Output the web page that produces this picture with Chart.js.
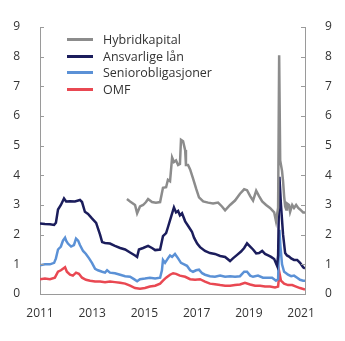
<!DOCTYPE html>
<html lang="no">
<head>
<meta charset="UTF-8">
<title>Risikopåslag</title>
<script src="https://cdn.jsdelivr.net/npm/chart.js"></script>
<style>
  body { margin: 0; background: #fff; }
  .wrap { position: relative; width: 345px; height: 341px; }
  .legend { position: absolute; left: 67px; top: 32px; font: 12.5px "Open Sans", sans-serif; color: #333; }
  .legend div { height: 16.5px; line-height: 16.5px; white-space: nowrap; }
  .legend span { display: inline-block; width: 26px; height: 3px; vertical-align: middle; margin-right: 10px; position: relative; top: -1px; }
</style>
</head>
<body>
<div class="wrap">
  <canvas id="graf" width="345" height="341"></canvas>
  <div class="legend" id="legend"></div>
</div>
<script>
const seriesNames = ['Hybridkapital', 'Ansvarlige lån', 'Seniorobligasjoner', 'OMF'];
const seriesColors = ['#8c8c8c', '#1b1d5c', '#5b91d6', '#e94852'];
const yTicks = [0, 1, 2, 3, 4, 5, 6, 7, 8, 9];
const xTicks = [2011, 2013, 2015, 2017, 2019, 2021];

// Hybridkapital
const hybridDates = [2014.33, 2014.45, 2014.56, 2014.64, 2014.72, 2014.83, 2014.95, 2015.06, 2015.14, 2015.29, 2015.44, 2015.60,
  2015.71, 2015.83, 2015.90, 2015.98, 2016.06, 2016.13, 2016.21, 2016.29, 2016.36, 2016.40, 2016.48, 2016.56, 2016.59, 2016.67,
  2016.75, 2016.86, 2016.98, 2017.09, 2017.25, 2017.44, 2017.63, 2017.82, 2017.97, 2018.09, 2018.28, 2018.47, 2018.66, 2018.82,
  2018.93, 2019.05, 2019.16, 2019.28, 2019.39, 2019.51, 2019.66, 2019.81, 2019.97, 2020.04, 2020.12, 2020.16, 2020.20, 2020.27,
  2020.31, 2020.35, 2020.39, 2020.43, 2020.46, 2020.54, 2020.58, 2020.66, 2020.73, 2020.81, 2020.89, 2020.96, 2021.08, 2021.15];
const hybridValues = [3.2, 3.12, 3.05, 3.0, 2.72, 2.95, 3.0, 3.1, 3.2, 3.1, 3.08, 3.1,
  3.58, 3.6, 3.85, 3.8, 4.6, 4.45, 4.5, 4.35, 4.38, 5.2, 5.15, 4.85, 4.35, 4.35,
  4.2, 3.9, 3.55, 3.26, 3.12, 3.08, 3.05, 3.08, 2.95, 2.82, 3.0, 3.15, 3.38, 3.53,
  3.5, 3.3, 3.15, 3.48, 3.3, 3.12, 3.0, 2.9, 2.75, 2.45, 2.9, 8.05, 4.5, 4.15,
  3.8, 3.3, 2.95, 2.85, 3.05, 3.0, 2.77, 3.0, 2.9, 3.0, 2.9, 2.85, 2.75, 2.75];

// Ansvarlige lån
const ansvDates = [2011.00, 2011.19, 2011.38, 2011.54, 2011.61, 2011.69, 2011.80, 2011.92, 2012.00, 2012.15, 2012.34, 2012.53,
  2012.61, 2012.72, 2012.84, 2012.99, 2013.15, 2013.30, 2013.38, 2013.49, 2013.68, 2013.87, 2014.07, 2014.26, 2014.45, 2014.64,
  2014.72, 2014.79, 2014.95, 2015.14, 2015.29, 2015.41, 2015.60, 2015.71, 2015.83, 2015.90, 2016.02, 2016.13, 2016.21, 2016.29,
  2016.36, 2016.44, 2016.56, 2016.67, 2016.82, 2016.90, 2017.02, 2017.13, 2017.32, 2017.51, 2017.70, 2017.90, 2018.09, 2018.28,
  2018.39, 2018.55, 2018.70, 2018.82, 2018.93, 2019.05, 2019.16, 2019.28, 2019.39, 2019.51, 2019.62, 2019.74, 2019.85, 2019.97,
  2020.08, 2020.12, 2020.17, 2020.23, 2020.31, 2020.39, 2020.46, 2020.54, 2020.62, 2020.73, 2020.85, 2020.96, 2021.08, 2021.15];
const ansvValues = [2.38, 2.36, 2.35, 2.33, 2.4, 2.85, 3.0, 3.22, 3.12, 3.13, 3.12, 3.17,
  3.1, 2.77, 2.7, 2.55, 2.4, 2.0, 1.75, 1.72, 1.7, 1.62, 1.55, 1.5, 1.4, 1.3,
  1.25, 1.5, 1.55, 1.62, 1.55, 1.48, 1.5, 1.95, 2.05, 2.25, 2.6, 2.92, 2.75, 2.8,
  2.65, 2.72, 2.45, 2.3, 2.1, 1.9, 1.7, 1.58, 1.45, 1.38, 1.35, 1.28, 1.25, 1.11,
  1.2, 1.32, 1.43, 1.55, 1.71, 1.6, 1.5, 1.37, 1.38, 1.45, 1.35, 1.3, 1.25, 1.18,
  0.95, 1.3, 3.95, 3.0, 2.0, 1.38, 1.3, 1.26, 1.2, 1.15, 1.15, 1.05, 0.9, 0.86];

// Seniorobligasjoner
const seniorDates = [2011.00, 2011.19, 2011.38, 2011.54, 2011.61, 2011.69, 2011.80, 2011.88, 2011.96, 2012.00, 2012.07, 2012.19,
  2012.30, 2012.38, 2012.46, 2012.53, 2012.65, 2012.76, 2012.88, 2012.99, 2013.11, 2013.22, 2013.38, 2013.49, 2013.57, 2013.68,
  2013.87, 2014.07, 2014.26, 2014.45, 2014.60, 2014.72, 2014.83, 2015.02, 2015.21, 2015.41, 2015.60, 2015.67, 2015.71, 2015.79,
  2015.90, 2015.98, 2016.06, 2016.17, 2016.29, 2016.40, 2016.52, 2016.63, 2016.75, 2016.86, 2016.98, 2017.09, 2017.21, 2017.32,
  2017.51, 2017.70, 2017.90, 2018.09, 2018.28, 2018.47, 2018.66, 2018.82, 2018.93, 2019.05, 2019.16, 2019.35, 2019.54, 2019.74,
  2019.89, 2020.04, 2020.12, 2020.17, 2020.21, 2020.27, 2020.35, 2020.43, 2020.50, 2020.62, 2020.73, 2020.85, 2020.96, 2021.08, 2021.15];
const seniorValues = [0.97, 1.0, 1.0, 1.05, 1.2, 1.5, 1.6, 1.8, 1.9, 1.8, 1.7, 1.6,
  1.65, 1.87, 1.8, 1.65, 1.45, 1.35, 1.2, 1.05, 0.85, 0.8, 0.75, 0.72, 0.8, 0.72,
  0.7, 0.65, 0.6, 0.58, 0.5, 0.43, 0.5, 0.52, 0.55, 0.52, 0.55, 0.8, 1.15, 1.05,
  1.2, 1.3, 1.25, 1.35, 1.2, 1.05, 1.0, 0.95, 0.8, 0.75, 0.8, 0.82, 0.7, 0.65,
  0.6, 0.58, 0.62, 0.58, 0.6, 0.58, 0.6, 0.75, 0.75, 0.62, 0.58, 0.62, 0.55, 0.55,
  0.55, 0.45, 0.5, 2.16, 1.6, 1.0, 0.75, 0.7, 0.65, 0.6, 0.62, 0.55, 0.48, 0.45, 0.45];

// OMF
const omfDates = [2011.00, 2011.19, 2011.38, 2011.57, 2011.69, 2011.80, 2011.88, 2011.96, 2012.03, 2012.15, 2012.26, 2012.38,
  2012.49, 2012.61, 2012.76, 2012.92, 2013.11, 2013.30, 2013.49, 2013.68, 2013.87, 2014.07, 2014.26, 2014.45, 2014.64, 2014.83,
  2015.02, 2015.21, 2015.41, 2015.60, 2015.71, 2015.83, 2015.98, 2016.10, 2016.21, 2016.36, 2016.56, 2016.75, 2016.94, 2017.13,
  2017.32, 2017.51, 2017.70, 2017.90, 2018.09, 2018.28, 2018.47, 2018.66, 2018.85, 2019.05, 2019.24, 2019.43, 2019.62, 2019.81,
  2020.00, 2020.12, 2020.17, 2020.23, 2020.35, 2020.50, 2020.66, 2020.81, 2020.96, 2021.15];
const omfValues = [0.5, 0.52, 0.5, 0.55, 0.75, 0.8, 0.85, 0.9, 0.75, 0.65, 0.62, 0.72,
  0.68, 0.55, 0.48, 0.45, 0.42, 0.42, 0.4, 0.42, 0.4, 0.38, 0.35, 0.28, 0.2, 0.18,
  0.2, 0.25, 0.28, 0.35, 0.45, 0.55, 0.65, 0.7, 0.68, 0.62, 0.58, 0.5, 0.48, 0.5,
  0.42, 0.35, 0.33, 0.3, 0.28, 0.28, 0.3, 0.32, 0.38, 0.32, 0.28, 0.28, 0.25, 0.25,
  0.22, 0.25, 0.72, 0.45, 0.35, 0.3, 0.3, 0.25, 0.2, 0.15];

const toPoints = (dates, values) => dates.map((d, i) => ({ x: d, y: values[i] }));
const allData = [
  toPoints(hybridDates, hybridValues),
  toPoints(ansvDates, ansvValues),
  toPoints(seniorDates, seniorValues),
  toPoints(omfDates, omfValues)
];

const axisColor = '#9a9a9a';
const font = { family: '"Open Sans", sans-serif', size: 12 };

// small inward tick marks on both y axes
const innerTicks = {
  id: 'innerTicks',
  afterDraw(chart) {
    const c = chart.ctx, a = chart.chartArea;
    c.save();
    c.strokeStyle = axisColor;
    c.lineWidth = 1;
    yTicks.forEach(v => {
      const y = Math.round(chart.scales.y.getPixelForValue(v)) + 0.5;
      c.beginPath();
      c.moveTo(a.left, y); c.lineTo(a.left + 4, y);
      c.moveTo(a.right - 4, y); c.lineTo(a.right, y);
      c.stroke();
    });
    c.restore();
  }
};

const yAxis = (pos) => ({
  position: pos,
  min: 0, max: 9,
  afterBuildTicks: s => { s.ticks = yTicks.map(v => ({ value: v })); },
  afterFit: s => { s.width = 40; },
  grid: { display: false },
  border: { display: true, color: axisColor, width: 1 },
  ticks: { color: '#333', font: font, padding: 12 }
});

new Chart(document.getElementById('graf'), {
  type: 'line',
  data: {
    datasets: seriesNames.map((n, i) => ({
      label: n,
      data: allData[i],
      borderColor: seriesColors[i],
      backgroundColor: seriesColors[i],
      borderWidth: 2.5,
      pointRadius: 0,
      tension: 0,
      yAxisID: 'y'
    }))
  },
  options: {
    responsive: false,
    animation: false,
    layout: { padding: { top: 27, left: 0, right: 0, bottom: 0 } },
    plugins: { legend: { display: false }, tooltip: { enabled: false } },
    scales: {
      x: {
        type: 'linear',
        min: 2011, max: 2021.15,
        afterBuildTicks: s => { s.ticks = xTicks.map(v => ({ value: v })); },
        afterFit: s => { s.height = 47; },
        grid: { display: false },
        border: { display: true, color: axisColor, width: 1 },
        ticks: { color: '#333', font: font, padding: 4, maxRotation: 0, callback: v => String(v) }
      },
      y: yAxis('left'),
      y2: yAxis('right')
    }
  },
  plugins: [innerTicks]
});

document.getElementById('legend').innerHTML = seriesNames.map((n, i) =>
  '<div><span style="background:' + seriesColors[i] + '"></span>' + n + '</div>').join('');
</script>
</body>
</html>
